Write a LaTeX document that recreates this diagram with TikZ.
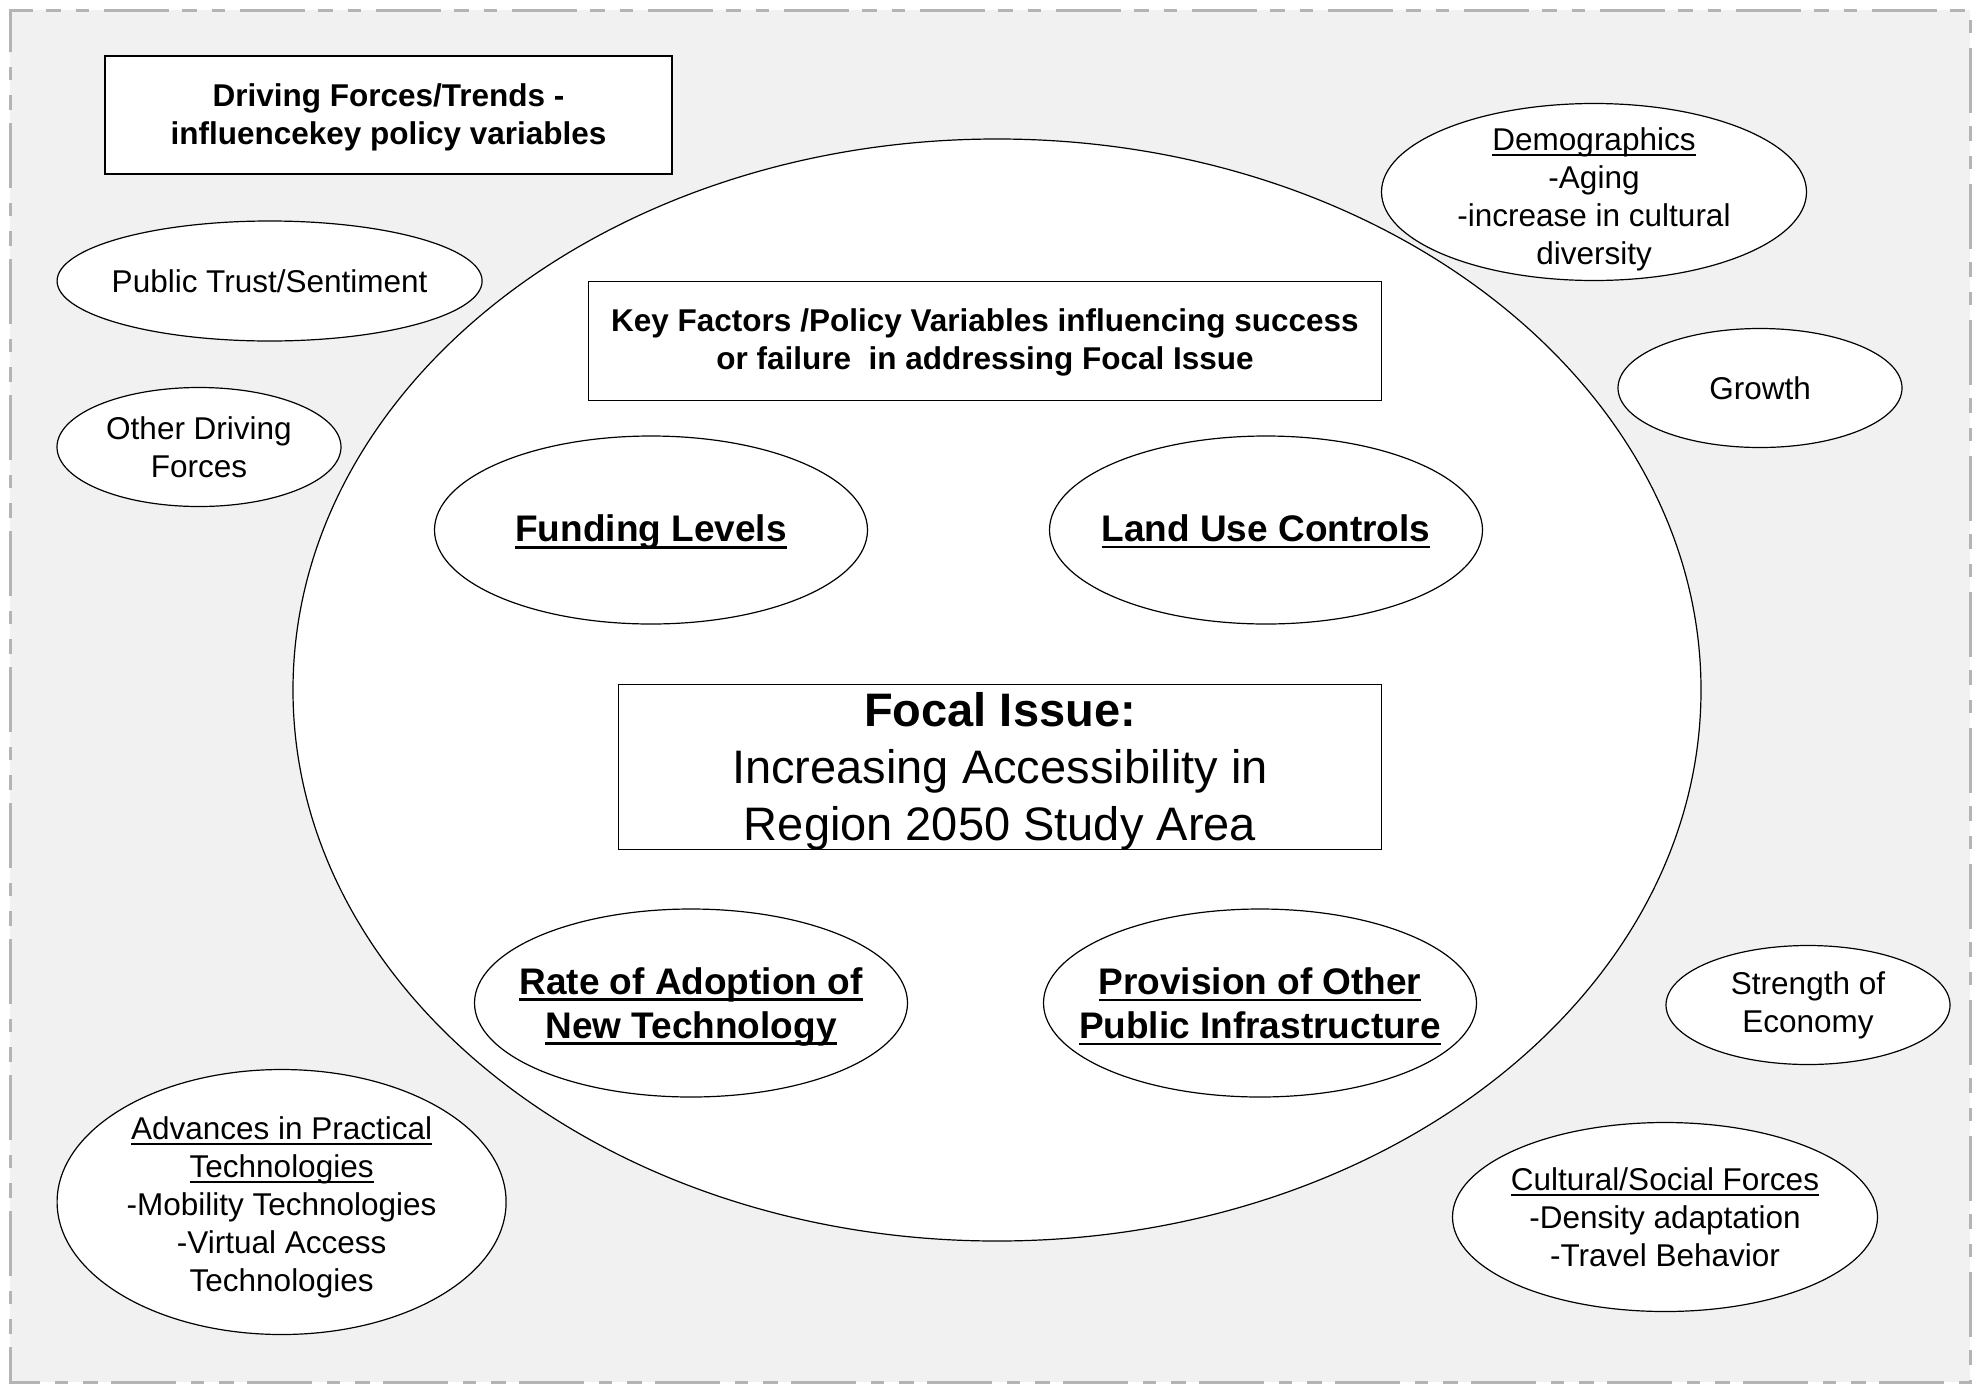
\documentclass[tikz,border=0pt]{standalone}
\usepackage{fontspec}
\setmainfont{Liberation Sans}
\usetikzlibrary{shapes.geometric}
\definecolor{bgc}{RGB}{241,241,241}
\definecolor{bordc}{RGB}{180,180,180}
\newcommand{\ulx}[1]{\setbox0\hbox{#1}\leavevmode\rlap{\rule[-0.18em]{\wd0}{0.072em}}\box0}
\tikzset{
  ell/.style={ellipse, draw=black, fill=white, line width=1.2pt, inner sep=0pt},
  txt/.style={inner sep=0pt, align=center, font=\fontsize{31.5}{38}\selectfont},
  keytxt/.style={inner sep=0pt, align=center, font=\fontsize{37}{44}\selectfont\bfseries},
  txtbox/.style={rectangle, draw=black, fill=white, line width=1.2pt, inner sep=0pt},
}
\begin{document}
\begin{tikzpicture}[x=1pt,y=-1pt]
\useasboundingbox (0,0) rectangle (1980,1384);
\fill[bgc] (10,10) rectangle (1970,1382);
\draw[bordc, line width=3pt, dash pattern=on 65pt off 13pt on 15pt off 15pt on 13pt off 15pt]
  (10,52) -- (10,10) -- (1970,10) -- (1970,1382) -- (10,1382) -- cycle;

% big scope ellipse
\node[ell, minimum width=1408pt, minimum height=1102pt] (scope) at (997,690) {};

% boxes
\node[txtbox, minimum width=567pt, minimum height=118pt] (drive) at (388.5,115) {};
\node[txtbox, minimum width=793pt, minimum height=118.5pt] (key) at (985,341) {};
\node[txtbox, minimum width=763pt, minimum height=165.5pt] (focal) at (1000,767) {};
\node[txt, font=\fontsize{31.5}{38}\selectfont\bfseries, yshift=-2.5pt] (drivet) at (drive)
  {Driving Forces/Trends -\\influencekey policy variables};
\node[txt, font=\fontsize{31.5}{38}\selectfont\bfseries, yshift=-1.5pt] (keyt) at (key)
  {Key Factors /Policy Variables influencing success\\or failure\ \ in addressing Focal Issue};
\node[txt, font=\fontsize{47}{57}\selectfont, yshift=-4pt] (focalt) at (focal)
  {\textbf{Focal Issue:}\\Increasing Accessibility in\\Region 2050 Study Area};

% key factor ellipses
\node[ell, minimum width=433pt, minimum height=188pt] (fund) at (651,530) {};
\node[ell, minimum width=433pt, minimum height=188pt] (land) at (1266,530) {};
\node[ell, minimum width=433pt, minimum height=188pt] (rate) at (691,1003) {};
\node[ell, minimum width=433pt, minimum height=188pt] (prov) at (1260,1003) {};
\node[keytxt, yshift=-2.5pt] (fundt) at (fund) {\ulx{Funding Levels}};
\node[keytxt, yshift=-1.5pt] (landt) at (land) {\ulx{Land Use Controls}};
\node[keytxt, yshift=-4pt] (ratet) at (rate) {\ulx{Rate of Adoption of}\\\ulx{New Technology}};
\node[keytxt, yshift=-3.5pt] (provt) at (prov) {\ulx{Provision of Other}\\\ulx{Public Infrastructure}};

% driving forces ellipses
\node[ell, minimum width=425pt, minimum height=120pt] (trust) at (269.6,281) {};
\node[ell, minimum width=284pt, minimum height=119pt] (other) at (199,447) {};
\node[ell, minimum width=425pt, minimum height=177pt] (demo) at (1594,192) {};
\node[ell, minimum width=284pt, minimum height=119pt] (growth) at (1760,388) {};
\node[ell, minimum width=284pt, minimum height=119pt] (econ) at (1808,1005) {};
\node[ell, minimum width=449pt, minimum height=265pt] (adv) at (281.6,1202) {};
\node[ell, minimum width=425pt, minimum height=189pt] (cult) at (1665,1217) {};
\node[txt] (trustt) at (trust) {Public Trust/Sentiment};
\node[txt] (othert) at (other) {Other Driving\\Forces};
\node[txt, yshift=-7pt] (demot) at (demo) {\ulx{Demographics}\\-Aging\\-increase in cultural\\diversity};
\node[txt] (growtht) at (growth) {Growth};
\node[txt] (econt) at (econ) {Strength of\\Economy};
\node[txt, yshift=-5pt] (advt) at (adv) {\ulx{Advances in Practical}\\\ulx{Technologies}\\-Mobility Technologies\\-Virtual Access\\Technologies};
\node[txt] (cultt) at (cult) {\ulx{Cultural/Social Forces}\\-Density adaptation\\-Travel Behavior};
\end{tikzpicture}
\end{document}
